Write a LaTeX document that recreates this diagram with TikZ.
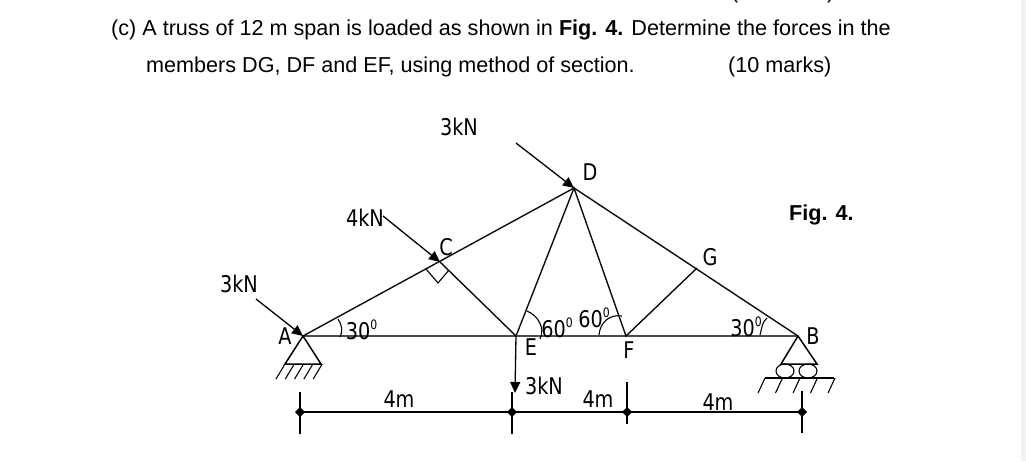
\documentclass[tikz,border=0pt]{standalone}
\usepackage{fontspec}
\setmainfont{Liberation Sans}
\newfontfamily\figfont[FakeStretch=0.93]{DejaVu Sans Condensed}
\usetikzlibrary{arrows.meta}
\tikzset{
  x=1pt,y=-1pt,
  bodytext/.style={anchor=base west,inner sep=0pt,font=\fontsize{21.6}{24}\selectfont},
  lbl/.style={inner sep=0pt,font=\figfont\fontsize{23}{26}\selectfont},
  anglbl/.style={lbl,anchor=base},
  member/.style={line width=1.4pt,black!95},
  beam/.style={line width=1.8pt,black!70},
  load/.style={line width=1.3pt,-{Triangle[length=11pt,width=10pt]}},
  thin1/.style={line width=1.1pt},
  support/.style={line width=1.5pt},
  dimtick/.style={line width=1.2pt},
  joint/.style={inner sep=0pt,minimum size=0pt}
}
\newcommand{\dimmark}[1]{\fill (#1) ++(-5,0) -- ++(5,-5) -- ++(5,5) -- ++(-5,5) -- cycle;}
\newcommand{\degz}{\raisebox{.42em}{\fontsize{13}{13}\selectfont 0}}
\begin{document}
\begin{tikzpicture}
\useasboundingbox (0,0) rectangle (1026,461);
\fill[white] (0,0) rectangle (1026,461);
\fill[black!5] (1021,0) rectangle (1026,461);
% text
\begin{scope}
\clip (0,0) rectangle (1026,461);
\node[bodytext] (t0) at (731,-2) {(10 marks)};
\end{scope}
\node[bodytext] (t1) at (111,35) {(c) A truss of 12 m span is loaded as shown in \textbf{Fig. 4.} Determine the forces in the};
\node[bodytext] (t2) at (146,72) {members DG, DF and EF, using method of section.};
\node[bodytext] (t3) at (728,72) {(10 marks)};
\node[bodytext] (fig) at (789,220) {\textbf{Fig. 4.}};
% joints
\node[joint] (A) at (303,336) {};
\node[joint] (C) at (440,262) {};
\node[joint] (D) at (574,188) {};
\node[joint] (E) at (516,336) {};
\node[joint] (F) at (626,336) {};
\node[joint] (G) at (697,268) {};
\node[joint] (B) at (798,336) {};
% members
\draw[beam] (A.center) -- (B.center);
\draw[member] (A.center) -- (D.center) -- (B.center);
\draw[member] (C.center) -- (E.center) -- (D.center) -- (F.center) -- (G.center);
% right angle at C
\coordinate (ra1) at (426,269);
\coordinate (ra2) at (438,283);
\coordinate (ra3) at (449,270);
\draw[thin1] (ra1) -- (ra2) -- (ra3);
% loads
\coordinate (la) at (256,299);
\coordinate (lc) at (383,216);
\coordinate (ld) at (516,143);
\coordinate (le) at (515,393);
\draw[load] (la) -- (A.center);
\draw[load] (lc) -- (C.center);
\draw[load] (ld) -- (D.center);
\draw[load] (E.center) -- (le);
% angle arcs
\draw[thin1] (338,319) .. controls (342,325) and (343,331) .. (340,337);
\draw[thin1] (527,311) .. controls (539,316) and (545,329) .. (540,339);
\draw[thin1] (599,335) .. controls (600,322) and (610,314) .. (622,316);
\draw[thin1] (760,335) .. controls (762,328) and (762,322) .. (767,318);
% supports
\draw[support] (A.center) -- (285,364) -- (321,364) -- cycle;
\foreach \i in {0,1,2,3,4}{\draw[thin1] (285+\i*9.3,364) -- (276+\i*9.3,379);}
\draw[support] (B.center) -- (781,364) -- (817,364) -- cycle;
\draw[thin1] (785,371) circle[x radius=9,y radius=7];
\draw[thin1] (808,371) circle[x radius=9,y radius=7];
\draw[thin1] (765,378) -- (834,378);
\foreach \i in {0,1,2,3,4}{\draw[thin1] (765+\i*17.5,378) -- (758+\i*17.5,393);}
% dimension
\coordinate (d0) at (300,412);
\coordinate (d1) at (512,412);
\coordinate (d2) at (627,412);
\coordinate (d3) at (802,412);
\draw[dimtick] (d0) -- (d3);
\draw[dimtick] (300,392) -- (300,434);
\draw[dimtick] (512,392) -- (512,434);
\draw[dimtick] (627,382) -- (627,424);
\draw[dimtick] (802,391) -- (802,433);
\dimmark{d0}\dimmark{d1}\dimmark{d2}\dimmark{d3}
% labels
\node[lbl] (l3a) at (239,284) {3kN};
\node[lbl] (l4) at (365,218) {4kN};
\node[lbl] (l3d) at (459,127) {3kN};
\node[lbl] (l3e) at (544,386) {3kN};
\node[lbl] (lA) at (285,336) {A};
\node[lbl] (lC) at (446,247) {C};
\node[lbl] (lD) at (590,172) {D};
\node[lbl] (lE) at (531,347) {E};
\node[lbl] (lF) at (629,350) {F};
\node[lbl] (lG) at (710,257) {G};
\node[lbl] (lB) at (813,336) {B};
\node[anglbl] (a1) at (361.5,339) {30\degz};
\node[anglbl] (a2) at (557,337) {60\degz};
\node[anglbl] (a3) at (594,327) {60\degz};
\node[anglbl] (a4) at (746,336) {30\degz};
\node[lbl] (m1) at (399,399) {4m};
\node[lbl] (m2) at (598,399) {4m};
\node[lbl] (m3) at (718,402) {4m};
\end{tikzpicture}
\end{document}
